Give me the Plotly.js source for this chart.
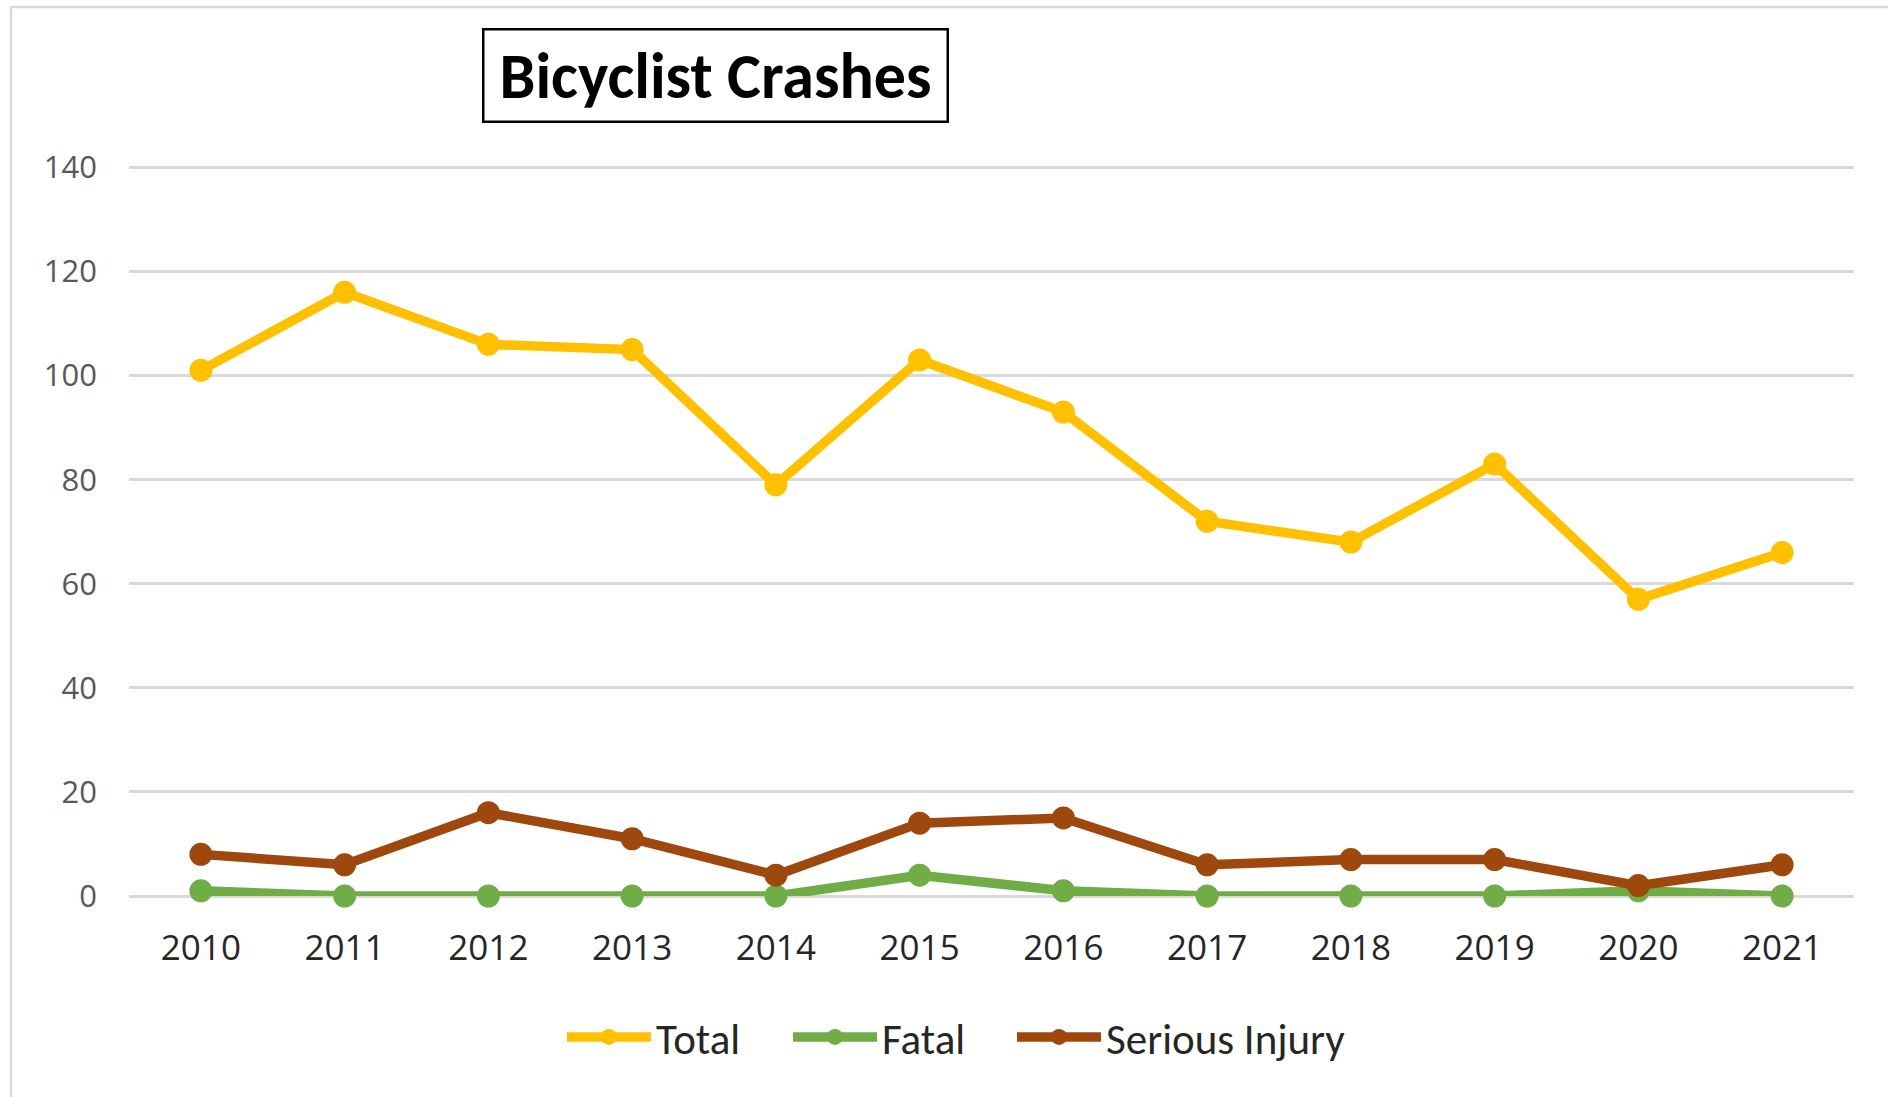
<!DOCTYPE html>
<html>
<head>
<meta charset="utf-8">
<script src="https://cdn.plot.ly/plotly-3.0.1.min.js"></script>
<style>
  html, body { margin: 0; padding: 0; background: #ffffff; }
  #chart { width: 1888px; height: 1097px; }
</style>
</head>
<body>
<div id="chart"></div>
<script>
const years = ["2010","2011","2012","2013","2014","2015","2016","2017","2018","2019","2020","2021"];
const totalValues = [101, 116, 106, 105, 79, 103, 93, 72, 68, 83, 57, 66];
const fatalValues = [1, 0, 0, 0, 0, 4, 1, 0, 0, 0, 1, 0];
const seriousValues = [8, 6, 16, 11, 4, 14, 15, 6, 7, 7, 2, 6];
const yTicks = [0, 20, 40, 60, 80, 100, 120, 140];
const chartTitle = "Bicyclist Crashes";

const W = 1888, H = 1097;
const yMax = 142;
const zeroY = 896, topGridY = 167;
const unit = (zeroY - topGridY) / 140;
const mL = 129, mR = 34, mB = H - zeroY;
const mT = Math.round(zeroY - unit * yMax);
const pw = W - mL - mR, ph = H - mT - mB;
const px = v => (v - mL) / pw;
const py = v => (H - mB - v) / ph;

const TEXTFONT = "Carlito, Lato, sans-serif";
const NUMFONT = "'Open Sans', sans-serif";

function series(name, y, color, legendId) {
  return {
    type: "scatter", mode: "lines+markers", name: name,
    x: years, y: y,
    line: { color: color, width: 9.5 },
    marker: { color: color, size: 23, symbol: "circle" },
    cliponaxis: false,
    legend: legendId
  };
}

const data = [
  series("Total", totalValues, "#FFC000", "legend"),
  series("Fatal", fatalValues, "#70AD47", "legend2"),
  series("Serious Injury", seriousValues, "#9E480E", "legend3")
];

function legendAt(xpix) {
  return {
    orientation: "h",
    x: px(xpix), xanchor: "left",
    y: py(1037), yanchor: "middle",
    font: { size: 43, color: "#262626", family: TEXTFONT },
    itemwidth: 84,
    bgcolor: "rgba(0,0,0,0)"
  };
}

const layout = {
  width: W, height: H,
  margin: { l: mL, r: mR, t: mT, b: mB, pad: 0 },
  paper_bgcolor: "#ffffff", plot_bgcolor: "#ffffff",
  font: { family: TEXTFONT, color: "#262626" },
  showlegend: true,
  xaxis: {
    type: "category",
    range: [-0.5, 11.5],
    showgrid: false, zeroline: false, showline: false,
    ticks: "",
    tickfont: { size: 35, color: "#262626", family: NUMFONT },
    ticklabelstandoff: 28,
    fixedrange: true
  },
  yaxis: {
    range: [0, yMax],
    tickvals: yTicks,
    showgrid: true, gridcolor: "#D9D9D9", gridwidth: 3,
    zeroline: true, zerolinecolor: "#D9D9D9", zerolinewidth: 3,
    showline: false, ticks: "",
    tickfont: { size: 31, color: "#595959", family: NUMFONT },
    ticklabelstandoff: 31,
    fixedrange: true
  },
  legend: legendAt(562),
  legend2: legendAt(788),
  legend3: legendAt(1012),
  annotations: [{
    xref: "paper", yref: "paper",
    x: px(715), y: py(76), xanchor: "center", yanchor: "middle",
    text: "<b>" + chartTitle + "</b>",
    showarrow: false,
    font: { size: 64, color: "#000000", family: TEXTFONT },
    bordercolor: "#000000", borderwidth: 2.5, borderpad: 1,
    width: 460, height: 88,
    bgcolor: "#ffffff"
  }],
  shapes: [{
    type: "rect", xref: "paper", yref: "paper",
    x0: px(11), x1: px(1895), y0: py(1105), y1: py(7),
    line: { color: "#D9D9D9", width: 2.5 },
    fillcolor: "rgba(0,0,0,0)",
    layer: "below"
  }]
};

Plotly.newPlot("chart", data, layout, { displayModeBar: false, staticPlot: true });
</script>
</body>
</html>
